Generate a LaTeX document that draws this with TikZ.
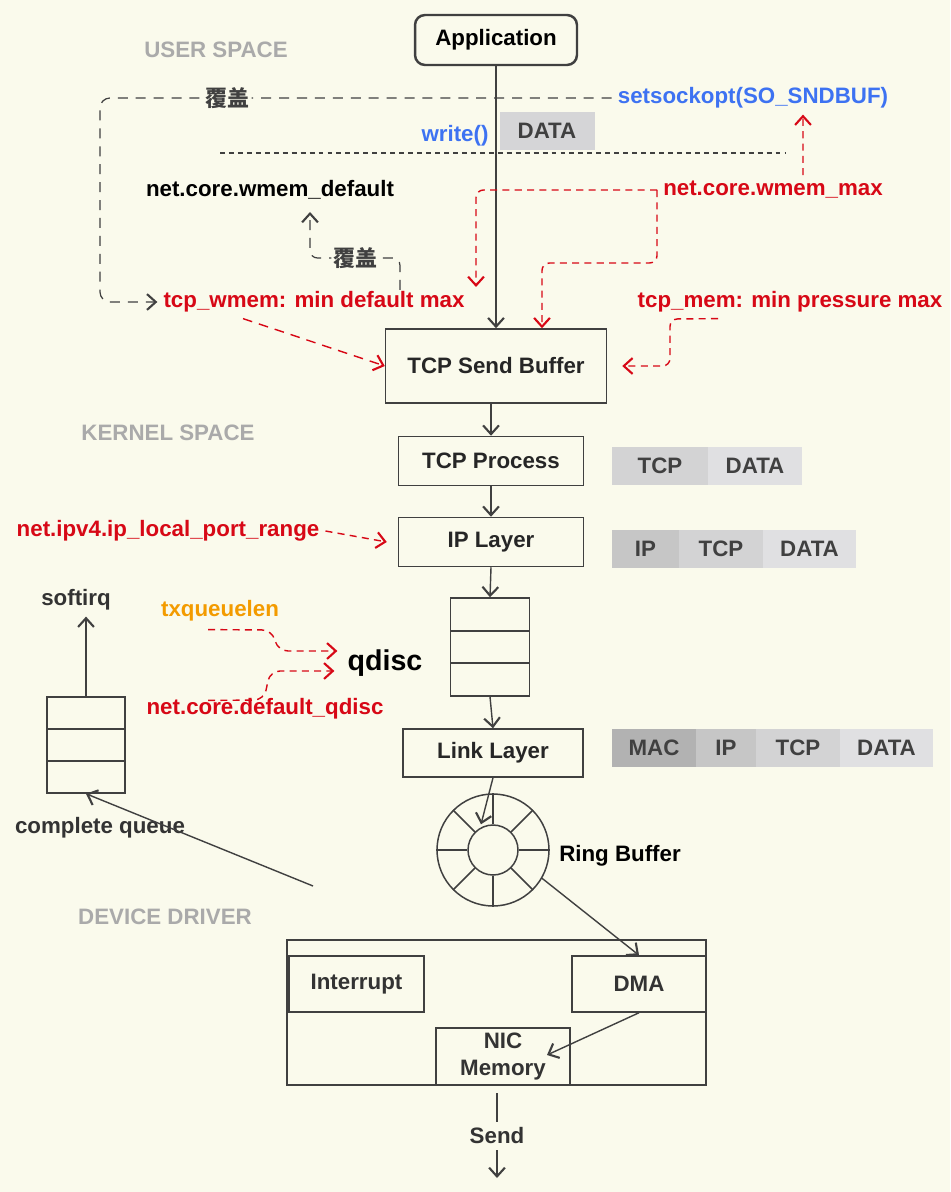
\documentclass[tikz,border=0pt]{standalone}
\usepackage{fontspec}
\setmainfont{Liberation Sans}
\newfontfamily\cjk{Noto Sans CJK SC}
\usetikzlibrary{arrows.meta}
\definecolor{bgcream}{RGB}{250,250,236}
\definecolor{linegray}{RGB}{64,64,64}
\definecolor{cfgred}{RGB}{215,8,22}
\definecolor{apiblue}{RGB}{61,114,242}
\definecolor{cfgorange}{RGB}{243,155,0}
\definecolor{regiongray}{RGB}{170,170,170}
\definecolor{hdrmac}{RGB}{178,178,178}
\definecolor{hdrip}{RGB}{198,198,198}
\definecolor{hdrtcp}{RGB}{211,211,212}
\definecolor{hdrdata}{RGB}{224,224,226}
\begin{document}
\begin{tikzpicture}[x=0.02cm, y=-0.02cm,
  font=\fontsize{12.7}{15}\selectfont\bfseries,
  box/.style={rectangle, draw=linegray, line width=0.85pt, inner sep=0pt, text=black!85},
  hdr/.style={rectangle, inner sep=0pt, minimum height=0.76cm, text=black!75},
  cell/.style={rectangle, draw=linegray, line width=0.85pt, inner sep=0pt},
  flow/.style={draw=linegray, line width=0.8pt, -{Straight Barb[length=5pt,width=9pt,line width=1.2pt]}},
  cfg/.style={text=cfgred},
  cfgline/.style={draw=cfgred, line width=0.8pt, dash pattern=on 4pt off 3pt, -{Straight Barb[length=5pt,width=9pt,line width=1.2pt]}},
  coverline/.style={draw=linegray, line width=0.7pt, dash pattern=on 5.7pt off 4.5pt, -{Straight Barb[length=5pt,width=9pt,line width=1.2pt]}},
  covertext/.style={fill=bgcream, text=linegray, inner sep=1pt, font=\cjk\fontsize{12.5}{15}\selectfont\bfseries},
  region/.style={text=regiongray}]
	\fill[bgcream] (0,0) rectangle (950,1192);

	% user space
	\node (user) at (216,50) [region] {USER SPACE};
	\node (app) at (496,40) [box, rounded corners=0.2cm, line width=1.4pt, minimum width=3.24cm, minimum height=1cm, text=black] {Application};
	\node (sockopt) at (753,98) [text=apiblue] {setsockopt(SO\_SNDBUF)};
	\node (write) at (455,136) [text=apiblue] {write()};
	\node (data) at (547,131) [hdr, fill=hdrdata!95!black, minimum width=1.9cm] {DATA};
	\draw[linegray, line width=0.7pt, dash pattern=on 2.8pt off 2.3pt] (220,153) -- (785,153);
	\node (wmemdef) at (270,190) [text=black] {net.core.wmem\_default};
	\node (wmemmax) at (773,190) [cfg] {net.core.wmem\_max};
	\node (tcpwmem) at (314,302) [cfg] {tcp\_wmem: min default max};
	\node (tcpmem) at (790,302) [cfg] {tcp\_mem: min pressure max};
	\node (sendbuf) at (496,366) [box, minimum width=4.42cm, minimum height=1.48cm] {TCP Send Buffer};

	\coordinate (wmaxtip) at (476,287);
	\coordinate (cover2from) at (400,290);
	\coordinate (cover2tip) at (310,212);

	\draw[coverline, rounded corners=0.2cm] (sockopt.west) -- node[covertext, pos=0.75] (cover1) {覆盖} (100,98) -- (100,302) -- (tcpwmem.west);
	\draw[coverline, rounded corners=0.15cm] (cover2from) -- (400,258) -- node[covertext] (cover2) {覆盖} (310,258) -- (cover2tip);
	\draw[flow] (app) -- (sendbuf);
	\draw[cfgline] ([xshift=0.6cm]wmemmax.north) -- ([xshift=1cm]sockopt.south);
	\draw[cfgline, rounded corners=0.15cm] (wmemmax.west) -| (wmaxtip);
	\draw[cfgline, rounded corners=0.15cm] (wmemmax.west) |- (542,263) -- ([xshift=0.92cm]sendbuf.north);
	\draw[cfgline, rounded corners=0.15cm] ([xshift=-1.44cm]tcpmem.south) -- (670,319) -- (670,366) -- ([xshift=0.3cm]sendbuf.east);
	\draw[cfgline, dash pattern=on 5.5pt off 4pt] ([xshift=-1.42cm]tcpwmem.south) -- (sendbuf.west);

	% kernel space
	\node (kernel) at (168,433) [region] {KERNEL SPACE};
	\node (tcpproc) at (491,461) [box, minimum width=3.7cm, minimum height=0.98cm] {TCP Process};
	\node (iplayer) at (491,542) [box, minimum width=3.7cm, minimum height=0.98cm] {IP Layer};
	\node (portrange) at (168,531) [cfg] {net.ipv4.ip\_local\_port\_range};
	\node (q1) at (490,614.5) [cell, minimum width=1.58cm, minimum height=0.66cm] {};
	\node (q2) at (490,647) [cell, minimum width=1.58cm, minimum height=0.66cm] {};
	\node (q3) at (490,679.5) [cell, minimum width=1.58cm, minimum height=0.66cm] {};
	\node (qdisc) at (385,663) [font=\fontsize{16.3}{19}\selectfont\bfseries, text=black] {qdisc};
	\node (txq) at (220,611) [text=cfgorange] {txqueuelen};
	\node (defq) at (265,709) [cfg] {net.core.default\_qdisc};
	\node (link) at (493,753) [box, minimum width=3.6cm, minimum height=0.96cm] {Link Layer};

	\node (h1tcp) at (660,466) [hdr, fill=hdrtcp, minimum width=1.92cm] {TCP};
	\node (h1data) at (755,466) [hdr, fill=hdrdata, minimum width=1.88cm] {DATA};
	\node (h2ip) at (645.5,549) [hdr, fill=hdrip, minimum width=1.34cm] {IP};
	\node (h2tcp) at (721,549) [hdr, fill=hdrtcp, minimum width=1.68cm] {TCP};
	\node (h2data) at (809.5,549) [hdr, fill=hdrdata, minimum width=1.86cm] {DATA};
	\node (h3mac) at (654,748) [hdr, fill=hdrmac, minimum width=1.68cm] {MAC};
	\node (h3ip) at (726,748) [hdr, fill=hdrip, minimum width=1.2cm] {IP};
	\node (h3tcp) at (798,748) [hdr, fill=hdrtcp, minimum width=1.68cm] {TCP};
	\node (h3data) at (886.5,748) [hdr, fill=hdrdata, minimum width=1.86cm] {DATA};

	\node (softirq) at (76,600) [text=black!80] {softirq};
	\node (c1) at (86,713) [cell, minimum width=1.56cm, minimum height=0.64cm] {};
	\node (c2) at (86,745) [cell, minimum width=1.56cm, minimum height=0.64cm] {};
	\node (c3) at (86,777) [cell, minimum width=1.56cm, minimum height=0.64cm] {};
	\node (cq) at (100,828) [text=black!80] {complete queue};

	\draw[flow] (tcpproc.north |- sendbuf.south) -- (tcpproc);
	\draw[flow] (tcpproc) -- (iplayer);
	\draw[flow] (iplayer.south) -- (q1.north);
	\draw[flow] (q3.south) -- (link.north);
	\draw[cfgline] (portrange.east) -- ([xshift=-0.22cm]iplayer.west);
	\draw[cfgline, rounded corners=0.2cm] ([shift={(-0.24cm,-0.04cm)}]txq.south) -- (272,630) -- (278,651) -- ([shift={(-0.08cm,0.24cm)}]qdisc.west);
	\draw[cfgline, rounded corners=0.2cm] ([shift={(-1.14cm,-0.16cm)}]defq.north) -- (264,700) -- (270,671) -- ([shift={(-0.14cm,-0.16cm)}]qdisc.west);
	\draw[flow] (c1.north) -- (c1.north |- softirq.south);

	% device driver
	\node (driver) at (165,917) [region] {DEVICE DRIVER};
	\node (ring) at (493,850) [circle, draw=linegray, line width=0.85pt, minimum size=2.24cm, inner sep=0pt] {};
	\node (ringin) at (493,850) [circle, draw=linegray, line width=0.85pt, minimum size=1cm, inner sep=0pt] {};
	\foreach \a in {0,45,...,315}
		\draw[linegray, line width=0.85pt] (ringin.\a) -- (ring.\a);
	\node (ringlbl) at (620,856) [text=black] {Ring Buffer};
	\node (nic) at (496.5,1012.5) [box, minimum width=8.38cm, minimum height=2.9cm] {};
	\node (intr) at (356.5,984) [box, minimum width=2.7cm, minimum height=1.12cm, text=black!80] {Interrupt};
	\node (dma) at (639,984) [box, minimum width=2.68cm, minimum height=1.12cm, text=black!80] {DMA};
	\node (nicmem) at (503,1056.5) [box, minimum width=2.68cm, minimum height=1.14cm, align=center, text=black!80] {NIC\\Memory};
	\node (send) at (497,1136) [text=black!80] {Send};

	\coordinate (nictip) at (547,1055);
	\coordinate (cqfrom) at (313,886);
	\coordinate (sendfrom) at (497,1093);
	\coordinate (sendto) at (497,1178);

	\draw[flow, shorten >=2pt] (link.south) -- (ringin.120);
	\draw[flow] (ring.-30) -- (dma.north);
	\draw[flow] (dma.south) -- (nictip);
	\draw[flow] (cqfrom) -- (c3.south);
	\draw[linegray, line width=0.8pt] (sendfrom) -- (send.north);
	\draw[flow] (send.south) -- (sendto);
\end{tikzpicture}
\end{document}
